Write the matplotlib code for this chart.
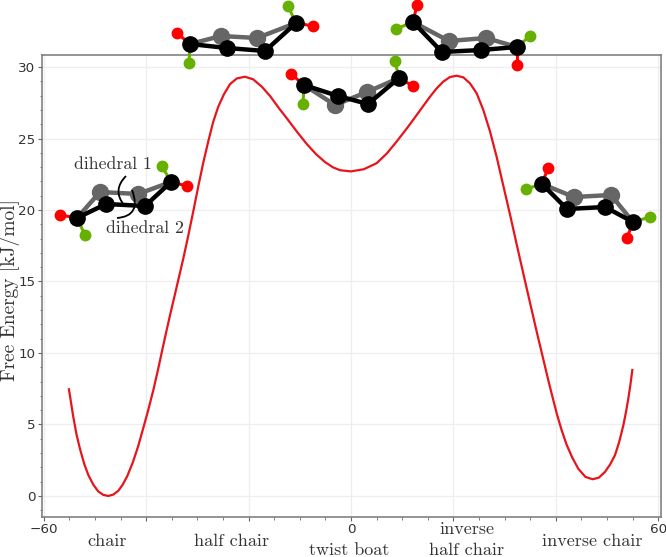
import matplotlib
matplotlib.use("Agg")
import matplotlib.pyplot as plt
from matplotlib.path import Path
from matplotlib.patches import PathPatch
from matplotlib.ticker import MultipleLocator

# Free energy curve
angle = [-55.08, -54.24, -53.6, -52.93, -52.1, -51.3, -50.3, -49.36, -48.4, -47.4, -46.4, -45.45, -44.6, -43.7,
         -42.6, -41.54, -40.6, -39.6, -38.6, -37.64, -36.8, -36.0, -35.2, -34.38, -33.73, -32.75, -31.78, -30.8,
         -29.82, -28.85, -27.87, -26.9, -25.92, -24.8, -23.63, -22.3, -20.7, -19.1, -17.4, -15.8, -13.9, -12.5,
         -10.5, -8.6, -6.8, -5.1, -3.5, -2.1, 0.0, 2.5, 5.0, 7.0, 8.9, 10.9, 12.83, 15.43, 16.74, 18.03, 19.34,
         20.64, 21.93, 23.24, 24.55, 25.84, 27.15, 28.46, 29.75, 31.05, 32.36, 33.98, 35.3, 36.1, 36.9, 37.7,
         38.5, 39.3, 40.2, 41.1, 42.1, 43.2, 44.4, 45.8, 47.2, 48.4, 49.6, 50.6, 51.56, 52.4, 53.2, 53.7, 54.16,
         54.55, 54.95]
energy = [7.46, 5.55, 4.3, 3.3, 2.25, 1.47, 0.78, 0.32, 0.08, 0.0, 0.1, 0.36, 0.78, 1.38,
          2.35, 3.5, 4.7, 6.0, 7.4, 8.9, 10.3, 11.6, 12.85, 14.1, 15.1, 16.6, 18.2, 19.9,
          21.65, 23.3, 24.8, 26.17, 27.22, 28.1, 28.8, 29.2, 29.32, 29.14, 28.62, 27.97, 27.04, 26.4,
          25.45, 24.6, 23.9, 23.36, 22.98, 22.78, 22.7, 22.85, 23.27, 23.95, 24.78, 25.7, 26.64, 27.92, 28.51, 28.98, 29.3,
          29.39, 29.28, 28.86, 28.16, 27.0, 25.5, 23.7, 21.7, 19.7, 17.6, 15.05, 13.0, 11.75, 10.55, 9.35,
          8.15, 7.0, 5.75, 4.65, 3.6, 2.7, 1.9, 1.33, 1.17, 1.28, 1.68, 2.2, 2.85, 3.8, 4.95, 5.85, 6.8,
          7.72, 8.81]

y_ticks = [0, 5, 10, 15, 20, 25, 30]
x_ticks = [-60, -40, -20, 0, 20, 40, 60]
x_labels = ["\u221260", "", "", "0", "", "", "60"]

# conformer labels under the axis, in pixels
state_names = ["chair", "half chair", "twist boat", "inverse", "half chair", "inverse chair"]
state_x = [107, 232, 349, 467, 467, 592]
state_y = [541, 541, 550, 529, 550, 541]

# molecule sketches, in pixels: black ring, grey ring, red and green substituents
chair_black = [(77, 218), (106, 204), (145, 206), (171, 182)]
chair_grey = [(100, 192), (138, 194)]
chair_red = [(60, 215), (187, 186)]
chair_green = [(85, 235), (162, 166)]

half_black = [(190, 44), (227, 48), (265, 51), (296, 23)]
half_grey = [(221, 36), (257, 38)]
half_red = [(177, 33), (313, 26)]
half_green = [(189, 63), (288, 6)]

boat_black = [(304, 85), (338, 96), (368, 104), (399, 78)]
boat_grey = [(335, 105), (367, 92)]
boat_red = [(291, 74), (413, 86)]
boat_green = [(303, 104), (395, 61)]

ihalf_black = [(413, 22), (442, 52), (481, 50), (517, 47)]
ihalf_grey = [(449, 41), (486, 38)]
ihalf_red = [(417, 5), (517, 65)]
ihalf_green = [(396, 29), (530, 36)]

ichair_black = [(542, 184), (567, 209), (605, 207), (633, 222)]
ichair_grey = [(574, 197), (611, 195)]
ichair_red = [(548, 168), (627, 238)]
ichair_green = [(526, 189), (650, 217)]

molecules = [
    (chair_black, chair_grey, chair_red, chair_green),
    (half_black, half_grey, half_red, half_green),
    (boat_black, boat_grey, boat_red, boat_green),
    (ihalf_black, ihalf_grey, ihalf_red, ihalf_green),
    (ichair_black, ichair_grey, ichair_red, ichair_green),
]

text_col = "#333333"
w, h = 666, 557


def draw_molecule(ax, black, grey, red, green):
    gx = [black[0][0], grey[0][0], grey[1][0], black[3][0]]
    gy = [black[0][1], grey[0][1], grey[1][1], black[3][1]]
    ax.plot(gx, gy, color="#666666", lw=3.2, zorder=2, solid_capstyle="round")
    ax.plot(gx[1:3], gy[1:3], "o", color="#666666", ms=11.5, zorder=2)
    # substituents hang off the two end atoms
    for pts, col in ((red, "#ff0000"), (green, "#66b000")):
        for end, p in zip((black[0], black[3]), pts):
            ax.plot([end[0], p[0]], [end[1], p[1]], color=col, lw=2.2, zorder=3)
            ax.plot(p[0], p[1], "o", color=col, ms=7.5, zorder=3)
    bx = [p[0] for p in black]
    by = [p[1] for p in black]
    ax.plot(bx, by, color="black", lw=3.2, zorder=4, solid_capstyle="round")
    ax.plot(bx, by, "o", color="black", ms=11, zorder=5)


fig = plt.figure(figsize=(w / 100, h / 100), dpi=100)

# Main axes
ax = fig.add_axes([41.7 / w, 1 - 516.7 / h, (660.5 - 41.7) / w, (516.7 - 55) / h])
ax.plot(angle, energy, color="#e8141c", lw=1.6, zorder=3)
ax.set_xlim(-60.4, 60.45)
ax.set_ylim(-1.45, 30.84)
ax.set_xticks(x_ticks)
ax.set_xticklabels(x_labels)
ax.set_yticks(y_ticks)
ax.xaxis.set_minor_locator(MultipleLocator(5))
ax.yaxis.set_minor_locator(MultipleLocator(1))
ax.grid(True, which="major", color="#eeeeee", lw=0.9)
ax.set_axisbelow(True)
ax.tick_params(which="major", length=3, width=0.8, color="#666666", labelsize=9.7, labelcolor=text_col, pad=1.5)
ax.tick_params(which="minor", length=1.8, width=0.6, color="#666666")
for s in ax.spines.values():
    s.set_color("#777777")
    s.set_linewidth(1.1)

# Overlay in pixel coordinates for the sketches and labels
ov = fig.add_axes([0, 0, 1, 1], facecolor="none")
ov.set_xlim(0, w)
ov.set_ylim(h, 0)
ov.axis("off")

for black, grey, red, green in molecules:
    draw_molecule(ov, black, grey, red, green)

for name, x, y in zip(state_names, state_x, state_y):
    ov.text(x, y, name, family="cmr10", fontsize=13, color=text_col, ha="center", va="center")

ov.text(10, 290, "Free Energy [kJ/mol]", family="cmr10", fontsize=14, color=text_col,
        rotation=90, ha="center", va="center")
ov.text(113, 164, "dihedral 1", family="cmr10", fontsize=12.8, color=text_col, ha="center", va="center", zorder=6)
ov.text(145, 228, "dihedral 2", family="cmr10", fontsize=12.8, color=text_col, ha="center", va="center", zorder=6)

# curved markers for the two dihedrals
arc1 = Path([(126, 176), (112, 190), (124, 205)], [Path.MOVETO, Path.CURVE3, Path.CURVE3])
arc2 = Path([(117, 218), (142, 216), (132, 190)], [Path.MOVETO, Path.CURVE3, Path.CURVE3])
for arc in (arc1, arc2):
    ov.add_patch(PathPatch(arc, fc="none", ec="black", lw=1.3, zorder=6))

fig.savefig("out.png", dpi=100)
